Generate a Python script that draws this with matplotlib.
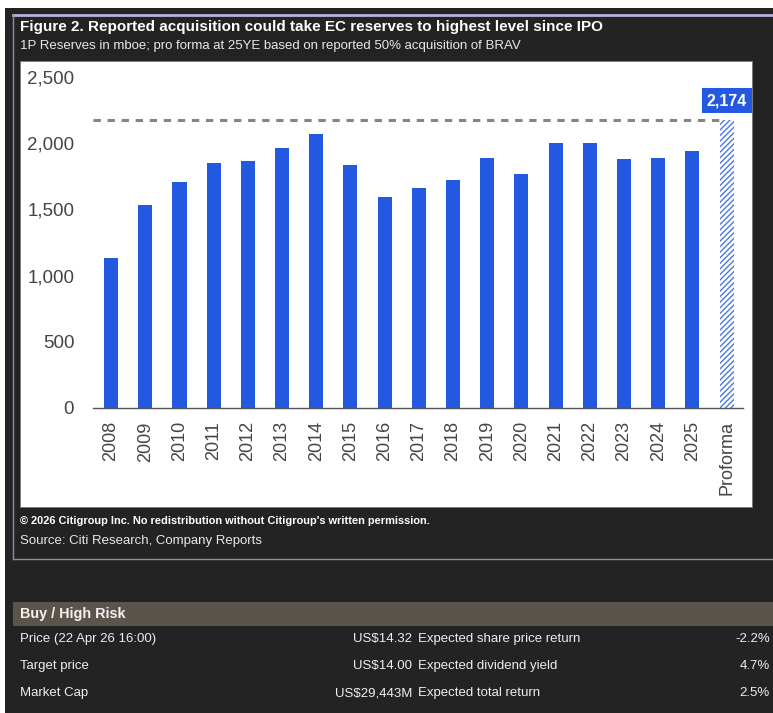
import numpy as np
import matplotlib.pyplot as plt
from matplotlib.patches import Rectangle
from matplotlib.lines import Line2D

# data
years = ["2008", "2009", "2010", "2011", "2012", "2013", "2014", "2015", "2016",
         "2017", "2018", "2019", "2020", "2021", "2022", "2023", "2024", "2025"]
reserves = [1130, 1532, 1706, 1847, 1869, 1960, 2073, 1839, 1590,
            1658, 1723, 1887, 1764, 1998, 2005, 1879, 1889, 1940]
proforma_label = "Proforma"
proforma_value = 2174
yticks = [0, 500, 1000, 1500, 2000, 2500]

title = "Figure 2. Reported acquisition could take EC reserves to highest level since IPO"
subtitle = "1P Reserves in mboe; pro forma at 25YE based on reported 50% acquisition of BRAV"
copyright_note = "\u00a9 2026 Citigroup Inc. No redistribution without Citigroup's written permission."
source_note = "Source: Citi Research, Company Reports"

rating = "Buy / High Risk"
row_labels = ["Price (22 Apr 26 16:00)", "Target price", "Market Cap"]
row_values = ["US$14.32", "US$14.00", "US$29,443M"]
exp_labels = ["Expected share price return", "Expected dividend yield", "Expected total return"]
exp_values = ["-2.2%", "4.7%", "2.5%"]

W, H = 773, 713
BG = "#232323"
BLUE = "#2358e0"
plt.rcParams['font.family'] = ['Liberation Sans', 'DejaVu Sans']

fig = plt.figure(figsize=(W / 100, H / 100), dpi=100, facecolor="white")


def fx(x):
    return x / W


def fy(y):
    return 1 - y / H


def rect(x0, y0, x1, y1, **kw):
    fig.patches.append(Rectangle((fx(x0), fy(y1)), (x1 - x0) / W, (y1 - y0) / H,
                                 transform=fig.transFigure, zorder=-10, **kw))


def hline(x0, x1, y, **kw):
    fig.lines.append(Line2D([fx(x0), fx(x1)], [fy(y), fy(y)], transform=fig.transFigure,
                            zorder=-5, **kw))


def vline(x, y0, y1, **kw):
    fig.lines.append(Line2D([fx(x), fx(x)], [fy(y0), fy(y1)], transform=fig.transFigure,
                            zorder=-5, **kw))


# background and panel frame
rect(5, 8, W, H, facecolor=BG, edgecolor="none")
hline(13, W, 15, color="#b4b4e0", lw=2)
vline(13, 15, 559, color="#8c8cae", lw=1)
hline(13, W, 559, color="#8c8cae", lw=1)
rect(20, 61, 752, 507, facecolor="white", edgecolor="#777777", lw=0.6)

fig.text(fx(20), fy(27), title, color="white", fontsize=11, fontweight="bold", va="center")
fig.text(fx(20), fy(46), subtitle, color="#e8e8e8", fontsize=9.55, va="center")
fig.text(fx(20), fy(521), copyright_note, color="white", fontsize=7.9, fontweight="bold", va="center")
fig.text(fx(20), fy(541), source_note, color="#e8e8e8", fontsize=9.5, va="center")

# chart
ax = fig.add_axes([fx(93), fy(408), (743 - 93) / W, (408 - 77) / H])
ax.set_facecolor("none")
x = np.arange(len(years))
ax.bar(x, reserves, width=0.41, color=BLUE, zorder=2)
xp = len(years)
ax.bar([xp], [proforma_value], width=0.41, facecolor="white", edgecolor="#4a78e6",
       linewidth=0, hatch="//////", zorder=2)
ax.hlines(proforma_value, -0.53, xp - 0.22, colors="#858585", linewidth=2.2,
          linestyles=(0, (2.4, 2.2)), zorder=1)
ax.annotate(f"{proforma_value:,}", xy=(xp, proforma_value), xytext=(0, 14),
            textcoords="offset points", ha="center", va="center", color="white",
            fontsize=11.5, fontweight="bold",
            bbox=dict(boxstyle="square,pad=0.3", facecolor=BLUE, edgecolor="none"))

ax.set_xlim(-0.53, len(years) + 0.48)
ax.set_ylim(0, 2500)
ax.set_yticks(yticks)
ax.set_yticklabels([f"{v:,}" for v in yticks])
ax.set_xticks(list(x) + [xp])
ax.set_xticklabels(years + [proforma_label], rotation=90)
ax.tick_params(axis="y", length=0, pad=13.5, labelsize=13.5, labelcolor="#444444")
ax.tick_params(axis="x", length=0, pad=9.5, labelsize=13, labelcolor="#444444")
for s in ["top", "right", "left"]:
    ax.spines[s].set_visible(False)
ax.spines["bottom"].set_color("#555555")
ax.spines["bottom"].set_linewidth(1)

# rating table
rect(13, 602, W, 626, facecolor="#5b544b", edgecolor="none")
fig.text(fx(20), fy(614), rating, color="#f2f2f2", fontsize=10.4, fontweight="bold", va="center")
row_y = [639, 666, 693]
for yy, a, b, c, d in zip(row_y, row_labels, row_values, exp_labels, exp_values):
    fig.text(fx(20), fy(yy), a, color="#eeeeee", fontsize=9.5, va="center")
    fig.text(fx(412), fy(yy), b, color="#eeeeee", fontsize=9.5, va="center", ha="right")
    fig.text(fx(418), fy(yy), c, color="#eeeeee", fontsize=9.5, va="center")
    fig.text(fx(770), fy(yy), d, color="#eeeeee", fontsize=9.5, va="center", ha="right")

fig.savefig("out.png", dpi=100, facecolor=fig.get_facecolor())
